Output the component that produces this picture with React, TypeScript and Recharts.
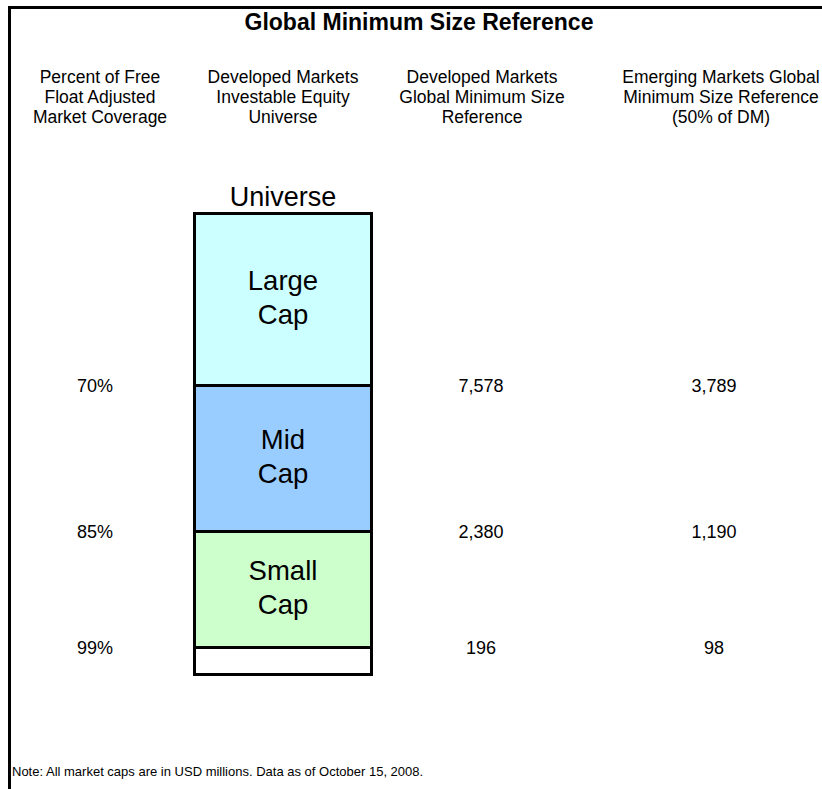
import { Bar, BarChart, LabelList, XAxis, YAxis } from "recharts"

const title = "Global Minimum Size Reference"
const note = "Note: All market caps are in USD millions. Data as of October 15, 2008."

// column headings, one list of lines per column
const columnHeaders = [
  ["Percent of Free", "Float Adjusted", "Market Coverage"],
  ["Developed Markets", "Investable Equity", "Universe"],
  ["Developed Markets", "Global Minimum Size", "Reference"],
  ["Emerging Markets Global", "Minimum Size Reference", "(50% of DM)"],
]
const headerCenters = [100, 283, 482, 721]

// bar segments, top to bottom (sizes are the drawn heights)
const universeLabel = "Universe"
const segmentNames = ["Large Cap", "Mid Cap", "Small Cap", ""]
const segmentSizes = [172, 146, 116, 27]
const segmentColors = ["#ccffff", "#99ccff", "#ccffcc", "#ffffff"]

// values at the lower edge of each named segment
const coverage = ["70%", "85%", "99%"]
const dmMinSize = [7578, 2380, 196]
const emMinSize = [3789, 1190, 98]
const rowCenters = [95, 481, 714]

const font = "'Liberation Sans', Arial, sans-serif"

const row: Record<string, string | number> = { name: universeLabel }
segmentSizes.forEach((v, i) => {
  row[`s${i}`] = v
})
const data = [row]
const total = segmentSizes.reduce((a, b) => a + b, 0)

function SegmentName(props: any, i: number) {
  const { x, y, width, height } = props
  if (!segmentNames[i]) return null
  const words = segmentNames[i].split(" ")
  const cx = x + width / 2
  const cy = y + height / 2
  return (
    <g>
      <text x={cx} y={cy - 9.5} textAnchor="middle" fontSize={27.5} fontFamily={font} fill="#000">
        {words[0]}
      </text>
      <text x={cx} y={cy + 24.5} textAnchor="middle" fontSize={27.5} fontFamily={font} fill="#000">
        {words[1]}
      </text>
    </g>
  )
}

function RowValues(props: any, i: number) {
  if (i >= coverage.length) return null
  const { y, height } = props
  const by = y + height + 6.5
  const vals = [coverage[i], dmMinSize[i].toLocaleString("en-US"), emMinSize[i].toLocaleString("en-US")]
  return (
    <g>
      {vals.map((v, k) => (
        <text key={k} x={rowCenters[k]} y={by} textAnchor="middle" fontSize={18} fontFamily={font} fill="#000">
          {v}
        </text>
      ))}
    </g>
  )
}

export default function App() {
  const order = segmentSizes.map((_, i) => i).reverse()
  return (
    <div style={{ position: "absolute", left: 0, top: 0, width: 822, height: 789, background: "#fff", fontFamily: font }}>
      <div
        style={{
          position: "absolute",
          left: 8,
          top: 6,
          width: 814,
          height: 783,
          borderTop: "3px solid #000",
          borderLeft: "3px solid #000",
          boxSizing: "border-box",
        }}
      />
      <div
        style={{
          position: "absolute",
          left: 0,
          top: 9,
          width: 838,
          textAlign: "center",
          fontWeight: "bold",
          fontSize: 23,
          lineHeight: "26px",
        }}
      >
        {title}
      </div>
      {columnHeaders.map((lines, c) => (
        <div
          key={c}
          style={{
            position: "absolute",
            left: headerCenters[c] - 150,
            top: 67,
            width: 300,
            textAlign: "center",
            fontSize: 17.5,
            lineHeight: "20px",
          }}
        >
          {lines.map((l, k) => (
            <div key={k}>{l}</div>
          ))}
        </div>
      ))}
      <div style={{ position: "absolute", left: 12, top: 764, fontSize: 13, lineHeight: "16px" }}>{note}</div>
      <div style={{ position: "absolute", left: 0, top: 0 }}>
        <BarChart
          width={822}
          height={789}
          data={data}
          barCategoryGap={0}
          margin={{ top: 183.5, right: 450.5, bottom: 114.5, left: 194.5 }}
        >
          <XAxis
            dataKey="name"
            orientation="top"
            axisLine={false}
            tickLine={false}
            height={30}
            tick={{ fontSize: 27, fill: "#000", fontFamily: font }}
          />
          <YAxis hide domain={[0, total]} />
          {order.map((i) => (
            <Bar
              key={i}
              dataKey={`s${i}`}
              stackId="u"
              fill={segmentColors[i]}
              stroke="#000"
              strokeWidth={3}
              isAnimationActive={false}
            >
              <LabelList dataKey={`s${i}`} content={(p: any) => SegmentName(p, i)} />
              <LabelList dataKey={`s${i}`} content={(p: any) => RowValues(p, i)} />
            </Bar>
          ))}
        </BarChart>
      </div>
    </div>
  )
}
